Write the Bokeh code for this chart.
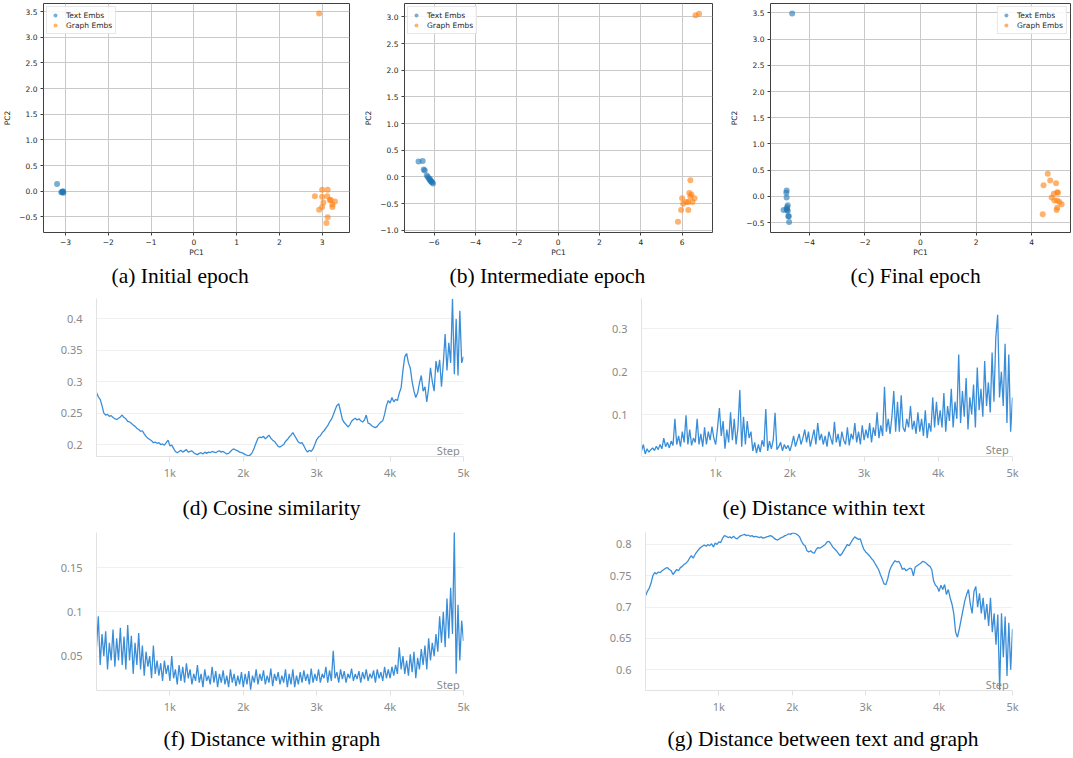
from bokeh.plotting import figure
from bokeh.layouts import column, row
from bokeh.models import FixedTicker, Title, Label, Range1d, CustomJSTickFormatter
from bokeh.embed import file_html
from bokeh.resources import INLINE

# ---------------- PCA scatter data ----------------
a_text_x = [-3.20, -3.07, -3.05, -3.10, -3.06, -3.08]
a_text_y = [0.14, -0.01, -0.03, -0.02, 0.00, -0.02]
a_graph_x = [2.93, 3.00, 3.13, 2.83, 3.00, 3.12, 3.18, 3.20, 3.30, 3.03, 3.24, 3.24, 3.00, 2.93, 3.13, 3.10]
a_graph_y = [3.46, 0.03, 0.03, -0.10, -0.11, -0.10, -0.17, -0.17, -0.20, -0.22, -0.26, -0.31, -0.31, -0.36, -0.51, -0.62]

b_text_x = [-6.75, -6.55, -6.50, -6.45, -6.35, -6.30, -6.25, -6.20, -6.15, -6.10, -6.05, -6.20, -6.12]
b_text_y = [0.29, 0.30, 0.14, 0.12, 0.03, 0.00, -0.03, -0.06, -0.08, -0.10, -0.12, -0.04, -0.09]
b_graph_x = [6.65, 6.82, 6.40, 6.35, 6.45, 6.40, 6.60, 6.00, 6.50, 6.30, 6.20, 6.05, 5.95, 6.30, 5.80]
b_graph_y = [3.03, 3.06, -0.06, -0.30, -0.33, -0.37, -0.40, -0.40, -0.47, -0.47, -0.47, -0.50, -0.62, -0.62, -0.84]

c_text_x = [-4.62, -4.82, -4.83, -4.82, -4.78, -4.80, -4.93, -4.82, -4.78, -4.76, -4.74, -4.73, -4.80]
c_text_y = [3.49, 0.11, 0.07, -0.02, -0.17, -0.21, -0.26, -0.24, -0.28, -0.38, -0.38, -0.49, -0.26]
c_graph_x = [4.58, 4.67, 4.43, 4.88, 4.80, 4.92, 4.95, 4.72, 4.82, 4.92, 5.00, 5.08, 4.92, 4.90, 4.40]
c_graph_y = [0.43, 0.30, 0.21, 0.25, 0.05, 0.08, 0.07, -0.02, -0.08, -0.08, -0.11, -0.15, -0.22, -0.26, -0.34]

# ---------------- training curves (step 0..5000, every 25) ----------------
steps = list(range(0, 5001, 25))

cosine_similarity = [
    0.283, 0.276, 0.272, 0.262, 0.250, 0.247, 0.248, 0.245, 0.246, 0.243,
    0.241, 0.240, 0.242, 0.244, 0.247, 0.243, 0.241, 0.237, 0.236, 0.234,
    0.231, 0.229, 0.226, 0.224, 0.221, 0.222, 0.217, 0.213, 0.210, 0.208,
    0.206, 0.203, 0.204, 0.202, 0.203, 0.200, 0.201, 0.199, 0.203, 0.207,
    0.198, 0.199, 0.194, 0.189, 0.187, 0.189, 0.191, 0.188, 0.190, 0.192,
    0.188, 0.189, 0.190, 0.187, 0.185, 0.184, 0.186, 0.187, 0.185, 0.188,
    0.186, 0.188, 0.187, 0.189, 0.188, 0.187, 0.189, 0.190, 0.188, 0.189,
    0.187, 0.185, 0.186, 0.189, 0.192, 0.193, 0.191, 0.190, 0.188, 0.187,
    0.186, 0.184, 0.183, 0.182, 0.184, 0.188, 0.195, 0.203, 0.210, 0.212,
    0.211, 0.213, 0.209, 0.212, 0.215, 0.210, 0.207, 0.205, 0.201, 0.197,
    0.196, 0.198, 0.200, 0.205, 0.208, 0.212, 0.215, 0.219, 0.214, 0.209,
    0.204, 0.202, 0.203, 0.198, 0.192, 0.188, 0.191, 0.189, 0.193, 0.200,
    0.208, 0.212, 0.214, 0.219, 0.222, 0.226, 0.230, 0.236, 0.240, 0.247,
    0.255, 0.262, 0.265, 0.253, 0.240, 0.235, 0.232, 0.228, 0.231, 0.237,
    0.240, 0.242, 0.239, 0.241, 0.238, 0.236, 0.239, 0.247, 0.234, 0.233,
    0.230, 0.228, 0.227, 0.229, 0.233, 0.236, 0.238, 0.248, 0.262, 0.270,
    0.266, 0.275, 0.268, 0.272, 0.270, 0.282, 0.290, 0.318, 0.340, 0.345,
    0.330, 0.322, 0.300, 0.285, 0.275, 0.282, 0.298, 0.310, 0.285, 0.292,
    0.268, 0.290, 0.322, 0.300, 0.285, 0.333, 0.315, 0.335, 0.292, 0.330,
    0.376, 0.318, 0.362, 0.330, 0.432, 0.312, 0.400, 0.310, 0.413, 0.330, 0.340,
]

distance_text = [
    0.015, 0.030, 0.008, 0.020, 0.012, 0.018, 0.022, 0.016, 0.026, 0.018,
    0.030, 0.020, 0.045, 0.025, 0.035, 0.022, 0.038, 0.028, 0.090, 0.030,
    0.050, 0.025, 0.060, 0.035, 0.098, 0.030, 0.065, 0.028, 0.045, 0.035,
    0.090, 0.030, 0.055, 0.025, 0.070, 0.030, 0.060, 0.040, 0.072, 0.045,
    0.030, 0.070, 0.115, 0.050, 0.085, 0.020, 0.065, 0.035, 0.105, 0.040,
    0.090, 0.030, 0.070, 0.157, 0.025, 0.095, 0.030, 0.085, 0.045, 0.060,
    0.015, 0.035, 0.010, 0.030, 0.012, 0.040, 0.025, 0.113, 0.015, 0.038,
    0.020, 0.040, 0.104, 0.018, 0.025, 0.035, 0.015, 0.030, 0.020, 0.028,
    0.015, 0.030, 0.050, 0.025, 0.040, 0.055, 0.030, 0.045, 0.065, 0.035,
    0.060, 0.025, 0.045, 0.065, 0.030, 0.080, 0.040, 0.055, 0.030, 0.050,
    0.025, 0.060, 0.045, 0.030, 0.083, 0.035, 0.055, 0.025, 0.060, 0.040,
    0.030, 0.070, 0.028, 0.055, 0.042, 0.080, 0.035, 0.060, 0.030, 0.075,
    0.040, 0.065, 0.045, 0.080, 0.035, 0.070, 0.050, 0.105, 0.045, 0.075,
    0.050, 0.165, 0.060, 0.090, 0.055, 0.095, 0.155, 0.060, 0.130, 0.060,
    0.145, 0.070, 0.060, 0.090, 0.070, 0.120, 0.065, 0.085, 0.055, 0.105,
    0.060, 0.090, 0.050, 0.110, 0.045, 0.080, 0.060, 0.140, 0.070, 0.130,
    0.075, 0.110, 0.070, 0.150, 0.060, 0.120, 0.085, 0.160, 0.070, 0.130,
    0.090, 0.240, 0.080, 0.155, 0.095, 0.185, 0.065, 0.140, 0.100, 0.170,
    0.070, 0.210, 0.110, 0.160, 0.095, 0.225, 0.120, 0.175, 0.105, 0.245,
    0.130, 0.280, 0.333, 0.140, 0.200, 0.120, 0.265, 0.080, 0.240, 0.060, 0.140,
]

distance_graph = [
    0.060, 0.095, 0.040, 0.075, 0.050, 0.078, 0.035, 0.065, 0.045, 0.080,
    0.038, 0.070, 0.045, 0.082, 0.040, 0.072, 0.035, 0.085, 0.045, 0.073,
    0.030, 0.065, 0.040, 0.076, 0.035, 0.062, 0.028, 0.055, 0.038, 0.050,
    0.025, 0.062, 0.030, 0.045, 0.028, 0.042, 0.022, 0.045, 0.030, 0.040,
    0.022, 0.050, 0.025, 0.035, 0.018, 0.040, 0.022, 0.038, 0.020, 0.042,
    0.025, 0.035, 0.018, 0.030, 0.022, 0.040, 0.020, 0.030, 0.015, 0.035,
    0.022, 0.028, 0.018, 0.038, 0.020, 0.033, 0.015, 0.030, 0.020, 0.034,
    0.018, 0.028, 0.015, 0.035, 0.020, 0.030, 0.016, 0.028, 0.018, 0.032,
    0.015, 0.030, 0.018, 0.033, 0.012, 0.028, 0.020, 0.035, 0.018, 0.030,
    0.022, 0.034, 0.018, 0.028, 0.020, 0.036, 0.016, 0.030, 0.022, 0.032,
    0.018, 0.028, 0.020, 0.035, 0.015, 0.030, 0.018, 0.035, 0.015, 0.028,
    0.018, 0.032, 0.020, 0.034, 0.022, 0.030, 0.018, 0.036, 0.020, 0.030,
    0.022, 0.035, 0.020, 0.030, 0.025, 0.038, 0.020, 0.034, 0.022, 0.056,
    0.025, 0.032, 0.020, 0.035, 0.024, 0.033, 0.020, 0.030, 0.025, 0.036,
    0.022, 0.030, 0.024, 0.033, 0.020, 0.032, 0.024, 0.035, 0.022, 0.030,
    0.025, 0.034, 0.020, 0.035, 0.025, 0.032, 0.022, 0.038, 0.025, 0.035,
    0.025, 0.038, 0.028, 0.040, 0.030, 0.060, 0.035, 0.050, 0.030, 0.045,
    0.028, 0.052, 0.032, 0.055, 0.025, 0.048, 0.035, 0.058, 0.040, 0.062,
    0.035, 0.070, 0.045, 0.065, 0.050, 0.075, 0.055, 0.095, 0.065, 0.100,
    0.060, 0.115, 0.070, 0.127, 0.075, 0.190, 0.030, 0.108, 0.045, 0.090, 0.067,
]

distance_between = [
    0.718, 0.725, 0.730, 0.738, 0.750, 0.755, 0.753, 0.756, 0.755, 0.758,
    0.760, 0.762, 0.763, 0.760, 0.758, 0.752, 0.756, 0.760, 0.758, 0.763,
    0.765, 0.768, 0.770, 0.773, 0.778, 0.782, 0.778, 0.784, 0.788, 0.792,
    0.795, 0.797, 0.799, 0.797, 0.800, 0.798, 0.801, 0.796, 0.802, 0.800,
    0.804, 0.803, 0.810, 0.814, 0.813, 0.811, 0.812, 0.810, 0.813, 0.810,
    0.809, 0.812, 0.814, 0.815, 0.816, 0.814, 0.815, 0.813, 0.814, 0.812,
    0.813, 0.812, 0.811, 0.812, 0.810, 0.811, 0.812, 0.813, 0.814, 0.813,
    0.810, 0.808, 0.807, 0.809, 0.811, 0.812, 0.814, 0.815, 0.817, 0.816,
    0.818, 0.818, 0.817, 0.815, 0.812, 0.805, 0.800, 0.798, 0.790, 0.788,
    0.790, 0.787, 0.786, 0.792, 0.795, 0.794, 0.796, 0.798, 0.800, 0.804,
    0.805, 0.801, 0.796, 0.793, 0.790, 0.786, 0.782, 0.785, 0.790, 0.795,
    0.800, 0.798, 0.803, 0.808, 0.812, 0.810, 0.808, 0.809, 0.800, 0.792,
    0.788, 0.785, 0.782, 0.778, 0.775, 0.770, 0.765, 0.760, 0.752, 0.745,
    0.737, 0.736, 0.745, 0.758, 0.765, 0.770, 0.774, 0.772, 0.773, 0.768,
    0.760, 0.762, 0.758, 0.760, 0.762, 0.761, 0.750, 0.764, 0.766, 0.768,
    0.770, 0.773, 0.772, 0.770, 0.767, 0.765, 0.760, 0.742, 0.735, 0.732,
    0.725, 0.735, 0.728, 0.736, 0.720, 0.728, 0.715, 0.705, 0.690, 0.660,
    0.652, 0.665, 0.680, 0.695, 0.710, 0.720, 0.728, 0.705, 0.690, 0.725,
    0.733, 0.700, 0.722, 0.690, 0.715, 0.680, 0.705, 0.670, 0.715, 0.660,
    0.690, 0.640, 0.688, 0.568, 0.690, 0.620, 0.685, 0.590, 0.675, 0.600, 0.665,
]

step_ticks = [1000, 2000, 3000, 4000, 5000]

MPL_FONT = "DejaVu Sans"
CAP_FONT = "Liberation Serif"
WB_FONT = "Noto Sans"
BLUE = "#1f77b4"
ORANGE = "#ff7f0e"
WB_LINE = "#3a8ed9"


def add_caption(p, text, offset, standoff, size="21.5px"):
    t = Title(text=text, align="left", offset=offset, standoff=standoff,
              text_font=CAP_FONT, text_font_size=size, text_font_style="normal",
              text_color="#000000")
    p.add_layout(t, "below")


def pca_panel(w, bl, br, xr, yr, xticks, yticks, tx, ty, gx, gy,
              caption, cap_off, legend_loc):
    p = figure(width=w, height=291, x_range=Range1d(*xr), y_range=Range1d(*yr),
               output_backend="svg", toolbar_location=None,
               min_border_left=bl, min_border_right=br,
               min_border_top=3, min_border_bottom=59)
    p.outline_line_color = "#404040"
    p.outline_line_width = 1
    p.grid.grid_line_color = "#c9c9c9"
    p.grid.grid_line_width = 1
    p.scatter(tx, ty, size=6, fill_color=BLUE, fill_alpha=0.6, line_color=None,
              legend_label="Text Embs")
    p.scatter(gx, gy, size=6, fill_color=ORANGE, fill_alpha=0.6, line_color=None,
              legend_label="Graph Embs")
    p.xaxis.ticker = FixedTicker(ticks=xticks)
    p.yaxis.ticker = FixedTicker(ticks=yticks)
    p.xaxis.formatter = CustomJSTickFormatter(
        code="const s = Math.abs(tick).toFixed(0); return tick < 0 ? '\u2212' + s : s;")
    p.yaxis.formatter = CustomJSTickFormatter(
        code="const s = Math.abs(tick).toFixed(1); return tick < 0 ? '\u2212' + s : s;")
    p.axis.axis_line_color = None
    p.axis.major_tick_line_color = "#404040"
    p.axis.major_tick_out = 3
    p.axis.major_tick_in = 0
    p.axis.minor_tick_line_color = None
    p.axis.major_label_text_font = MPL_FONT
    p.axis.major_label_text_font_size = "7.5px"
    p.axis.major_label_text_color = "#262626"
    p.axis.major_label_standoff = 3
    p.xaxis.axis_label = "PC1"
    p.yaxis.axis_label = "PC2"
    p.axis.axis_label_text_font = MPL_FONT
    p.axis.axis_label_text_font_size = "7.5px"
    p.axis.axis_label_text_font_style = "normal"
    p.axis.axis_label_text_color = "#262626"
    p.xaxis.axis_label_standoff = 0
    p.yaxis.axis_label_standoff = 4
    p.legend.location = legend_loc
    p.legend.label_text_font = MPL_FONT
    p.legend.label_text_font_size = "7.5px"
    p.legend.label_text_color = "#262626"
    p.legend.glyph_width = 10
    p.legend.glyph_height = 10
    p.legend.label_height = 10
    p.legend.label_standoff = 6
    p.legend.spacing = 0
    p.legend.padding = 3
    p.legend.margin = 3
    p.legend.border_line_color = "#d0d0d0"
    p.legend.background_fill_alpha = 0.85
    add_caption(p, caption, cap_off, 5)
    return p


def wb_panel(w, h, bl, br, bt, bb, yr, yticks, ys, step_y, caption, cap_off, standoff):
    p = figure(width=w, height=h, x_range=Range1d(0, 5000), y_range=Range1d(*yr),
               output_backend="svg", toolbar_location=None,
               min_border_left=bl, min_border_right=br,
               min_border_top=bt, min_border_bottom=bb)
    p.outline_line_color = None
    p.xgrid.grid_line_color = None
    p.ygrid.grid_line_color = "#f0f0f0"
    p.line(steps, ys, line_color=WB_LINE, line_width=1.3)
    p.xaxis.ticker = FixedTicker(ticks=step_ticks)
    p.xaxis.formatter = CustomJSTickFormatter(code="return (tick / 1000) + 'k';")
    p.yaxis.ticker = FixedTicker(ticks=yticks)
    p.yaxis.formatter = CustomJSTickFormatter(code="return String(parseFloat(tick.toFixed(3)));")
    p.axis.axis_line_color = "#e2e2e2"
    p.xaxis.major_tick_line_color = "#e2e2e2"
    p.xaxis.major_tick_out = 5
    p.xaxis.major_tick_in = 0
    p.yaxis.major_tick_line_color = None
    p.axis.minor_tick_line_color = None
    p.axis.major_label_text_font = WB_FONT
    p.axis.major_label_text_font_size = "11px"
    p.axis.major_label_text_color = "#8a8a8a"
    p.yaxis.major_label_standoff = 8
    p.xaxis.major_label_standoff = 3
    p.add_layout(Label(x=4950, y=step_y, text="Step", text_align="right",
                       text_baseline="middle", text_font=WB_FONT,
                       text_font_size="11px", text_color="#8a8a8a"))
    add_caption(p, caption, cap_off, standoff)
    return p


pa = pca_panel(360, 40, 11, (-3.517, 3.64), (-0.805, 3.656), [-3, -2, -1, 0, 1, 2, 3],
               [-0.5, 0.0, 0.5, 1.0, 1.5, 2.0, 2.5, 3.0, 3.5],
               a_text_x, a_text_y, a_graph_x, a_graph_y, "(a) Initial epoch", 68, "top_left")
pb = pca_panel(360, 44, 8, (-7.43, 7.47), (-1.04, 3.25), [-6, -4, -2, 0, 2, 4, 6],
               [-1.0, -0.5, 0.0, 0.5, 1.0, 1.5, 2.0, 2.5, 3.0],
               b_text_x, b_text_y, b_graph_x, b_graph_y, "(b) Intermediate epoch", 45, "top_left")
pc = pca_panel(352, 50, 2, (-5.4, 5.4), (-0.69, 3.68), [-4, -2, 0, 2, 4],
               [-0.5, 0.0, 0.5, 1.0, 1.5, 2.0, 2.5, 3.0, 3.5],
               c_text_x, c_text_y, c_graph_x, c_graph_y, "(c) Final epoch", 80, "top_right")

pd_ = wb_panel(560, 240, 96, 97, 7, 73, (0.181, 0.4325), [0.2, 0.25, 0.3, 0.35, 0.4],
               cosine_similarity, 0.1906, "(d) Cosine similarity", 86, 23)
pe = wb_panel(512, 240, 81, 60, 7, 73, (0.002, 0.371), [0.1, 0.2, 0.3],
              distance_text, 0.0183, "(e) Distance within text", 81, 23)
pf = wb_panel(560, 227, 96, 97, 1, 66, (0.0112, 0.1895), [0.05, 0.1, 0.15],
              distance_graph, 0.0179, "(f) Distance within graph", 67, 16)
pg = wb_panel(512, 227, 85, 60, 1, 66, (0.567, 0.819), [0.6, 0.65, 0.7, 0.75, 0.8],
              distance_between, 0.5768, "(g) Distance between text and graph", 22, 16)

layout = column(row(pa, pb, pc), row(pd_, pe), row(pf, pg))

open("out.html", "w").write(file_html(layout, INLINE))
